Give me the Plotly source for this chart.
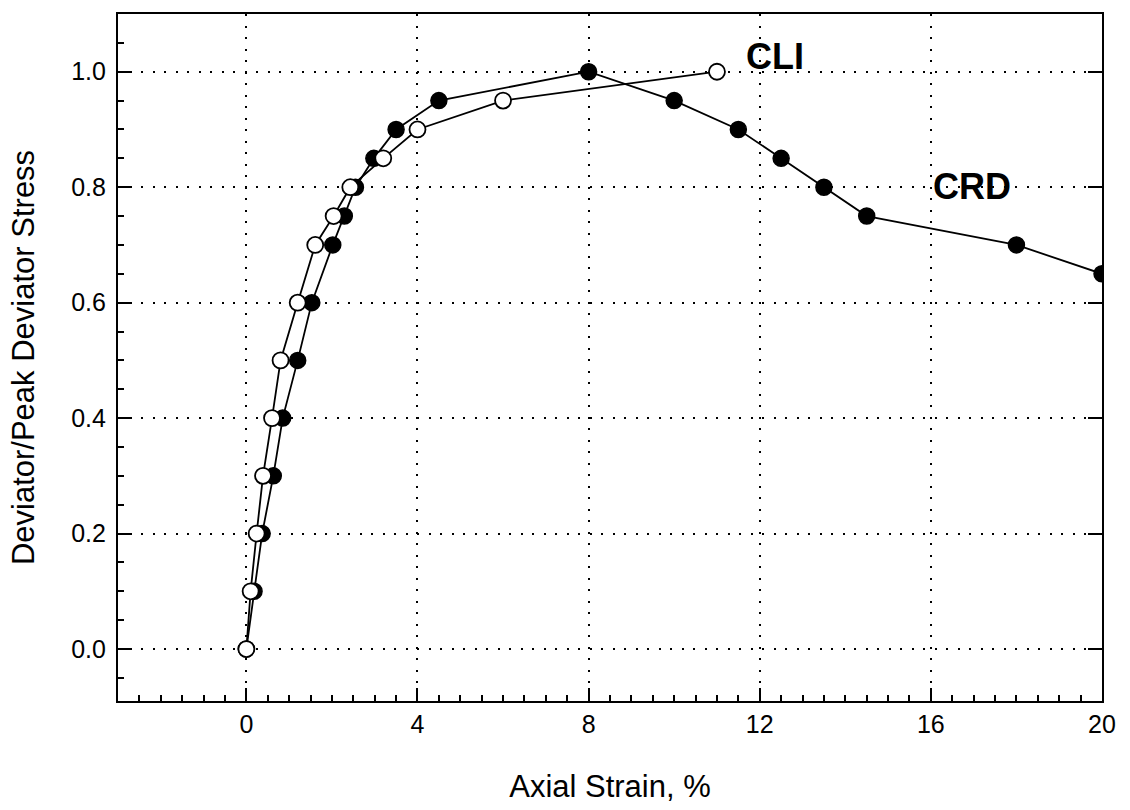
import plotly.graph_objects as go

# Data
crd_strain = [0, 0.18, 0.37, 0.63, 0.85, 1.2, 1.53, 2.02, 2.29, 2.55, 2.98, 3.5, 4.5,
              8.0, 10.0, 11.5, 12.5, 13.5, 14.5, 18.0, 20.0]
crd_ratio = [0.0, 0.1, 0.2, 0.3, 0.4, 0.5, 0.6, 0.7, 0.75, 0.8, 0.85, 0.9, 0.95,
             1.0, 0.95, 0.9, 0.85, 0.8, 0.75, 0.7, 0.65]

cli_strain = [0, 0.1, 0.24, 0.39, 0.6, 0.8, 1.2, 1.61, 2.04, 2.43, 3.2, 4.0, 6.0, 11.0]
cli_ratio = [0.0, 0.1, 0.2, 0.3, 0.4, 0.5, 0.6, 0.7, 0.75, 0.8, 0.85, 0.9, 0.95, 1.0]

x_ticks = [0, 4, 8, 12, 16, 20]
y_ticks = [0.0, 0.2, 0.4, 0.6, 0.8, 1.0]
y_tick_labels = ["0.0", "0.2", "0.4", "0.6", "0.8", "1.0"]

labels = [("CLI", 12.36, 1.027), ("CRD", 16.95, 0.801)]

FONT = "Liberation Sans, Arial, sans-serif"

fig = go.Figure()
fig.add_trace(go.Scatter(
    x=crd_strain, y=crd_ratio, mode="lines+markers", name="CRD",
    line=dict(color="black", width=1.8),
    marker=dict(symbol="circle", size=16, color="black",
                line=dict(color="black", width=1.5)),
    showlegend=False,
))
fig.add_trace(go.Scatter(
    x=cli_strain, y=cli_ratio, mode="lines+markers", name="CLI",
    line=dict(color="black", width=1.8),
    marker=dict(symbol="circle", size=16, color="white",
                line=dict(color="black", width=1.8)),
    showlegend=False,
))
# invisible trace to activate the right-side mirrored axis
fig.add_trace(go.Scatter(x=[None], y=[None], yaxis="y2", showlegend=False,
                         hoverinfo="skip"))

for text, xx, yy in labels:
    fig.add_annotation(x=xx, y=yy, text=text, showarrow=False,
                       font=dict(family=FONT, size=36, color="black", weight="bold"),
                       xanchor="center", yanchor="middle")

fig.update_layout(
    width=1130, height=810,
    paper_bgcolor="white", plot_bgcolor="white",
    margin=dict(l=118, r=28, t=13, b=107),
    font=dict(family=FONT, color="black"),
    xaxis=dict(
        range=[-3, 20], tickmode="array", tickvals=x_ticks,
        ticktext=[str(v) for v in x_ticks],
        ticks="inside", ticklen=13, tickwidth=2, tickcolor="black",
        minor=dict(dtick=0.5, ticks="inside", ticklen=6, tickwidth=1.5,
                   tickcolor="black", showgrid=False),
        showline=True, linecolor="black", linewidth=2.2, mirror=True,
        showgrid=True, gridcolor="black", gridwidth=1.6, griddash="2px,9.5px",
        zeroline=False,
        tickfont=dict(size=25, family=FONT, color="black"),
        title=dict(text="Axial Strain, %", font=dict(size=31, family=FONT, color="black"),
                   standoff=38),
    ),
    yaxis=dict(
        range=[-0.09, 1.1], tickmode="array", tickvals=y_ticks, ticktext=y_tick_labels,
        ticks="inside", ticklen=13, tickwidth=2, tickcolor="black",
        minor=dict(dtick=0.05, ticks="inside", ticklen=6, tickwidth=1.5,
                   tickcolor="black", showgrid=False),
        showline=True, linecolor="black", linewidth=2.2, mirror=True,
        showgrid=True, gridcolor="black", gridwidth=1.6, griddash="2px,9.5px",
        zeroline=False, ticklabelstandoff=5,
        tickfont=dict(size=25, family=FONT, color="black"),
        title=dict(text="Deviator/Peak Deviator Stress",
                   font=dict(size=31, family=FONT, color="black"), standoff=27),
    ),
    yaxis2=dict(
        overlaying="y", matches="y", side="right", range=[-0.09, 1.1],
        tickmode="array", tickvals=y_ticks, showticklabels=False,
        ticks="inside", ticklen=14, tickwidth=2, tickcolor="black",
        showgrid=False, zeroline=False, showline=False,
    ),
)

fig.write_html("out.html", config={"displayModeBar": False},
               post_script="document.body.style.margin='0px';document.body.style.overflow='hidden';")
